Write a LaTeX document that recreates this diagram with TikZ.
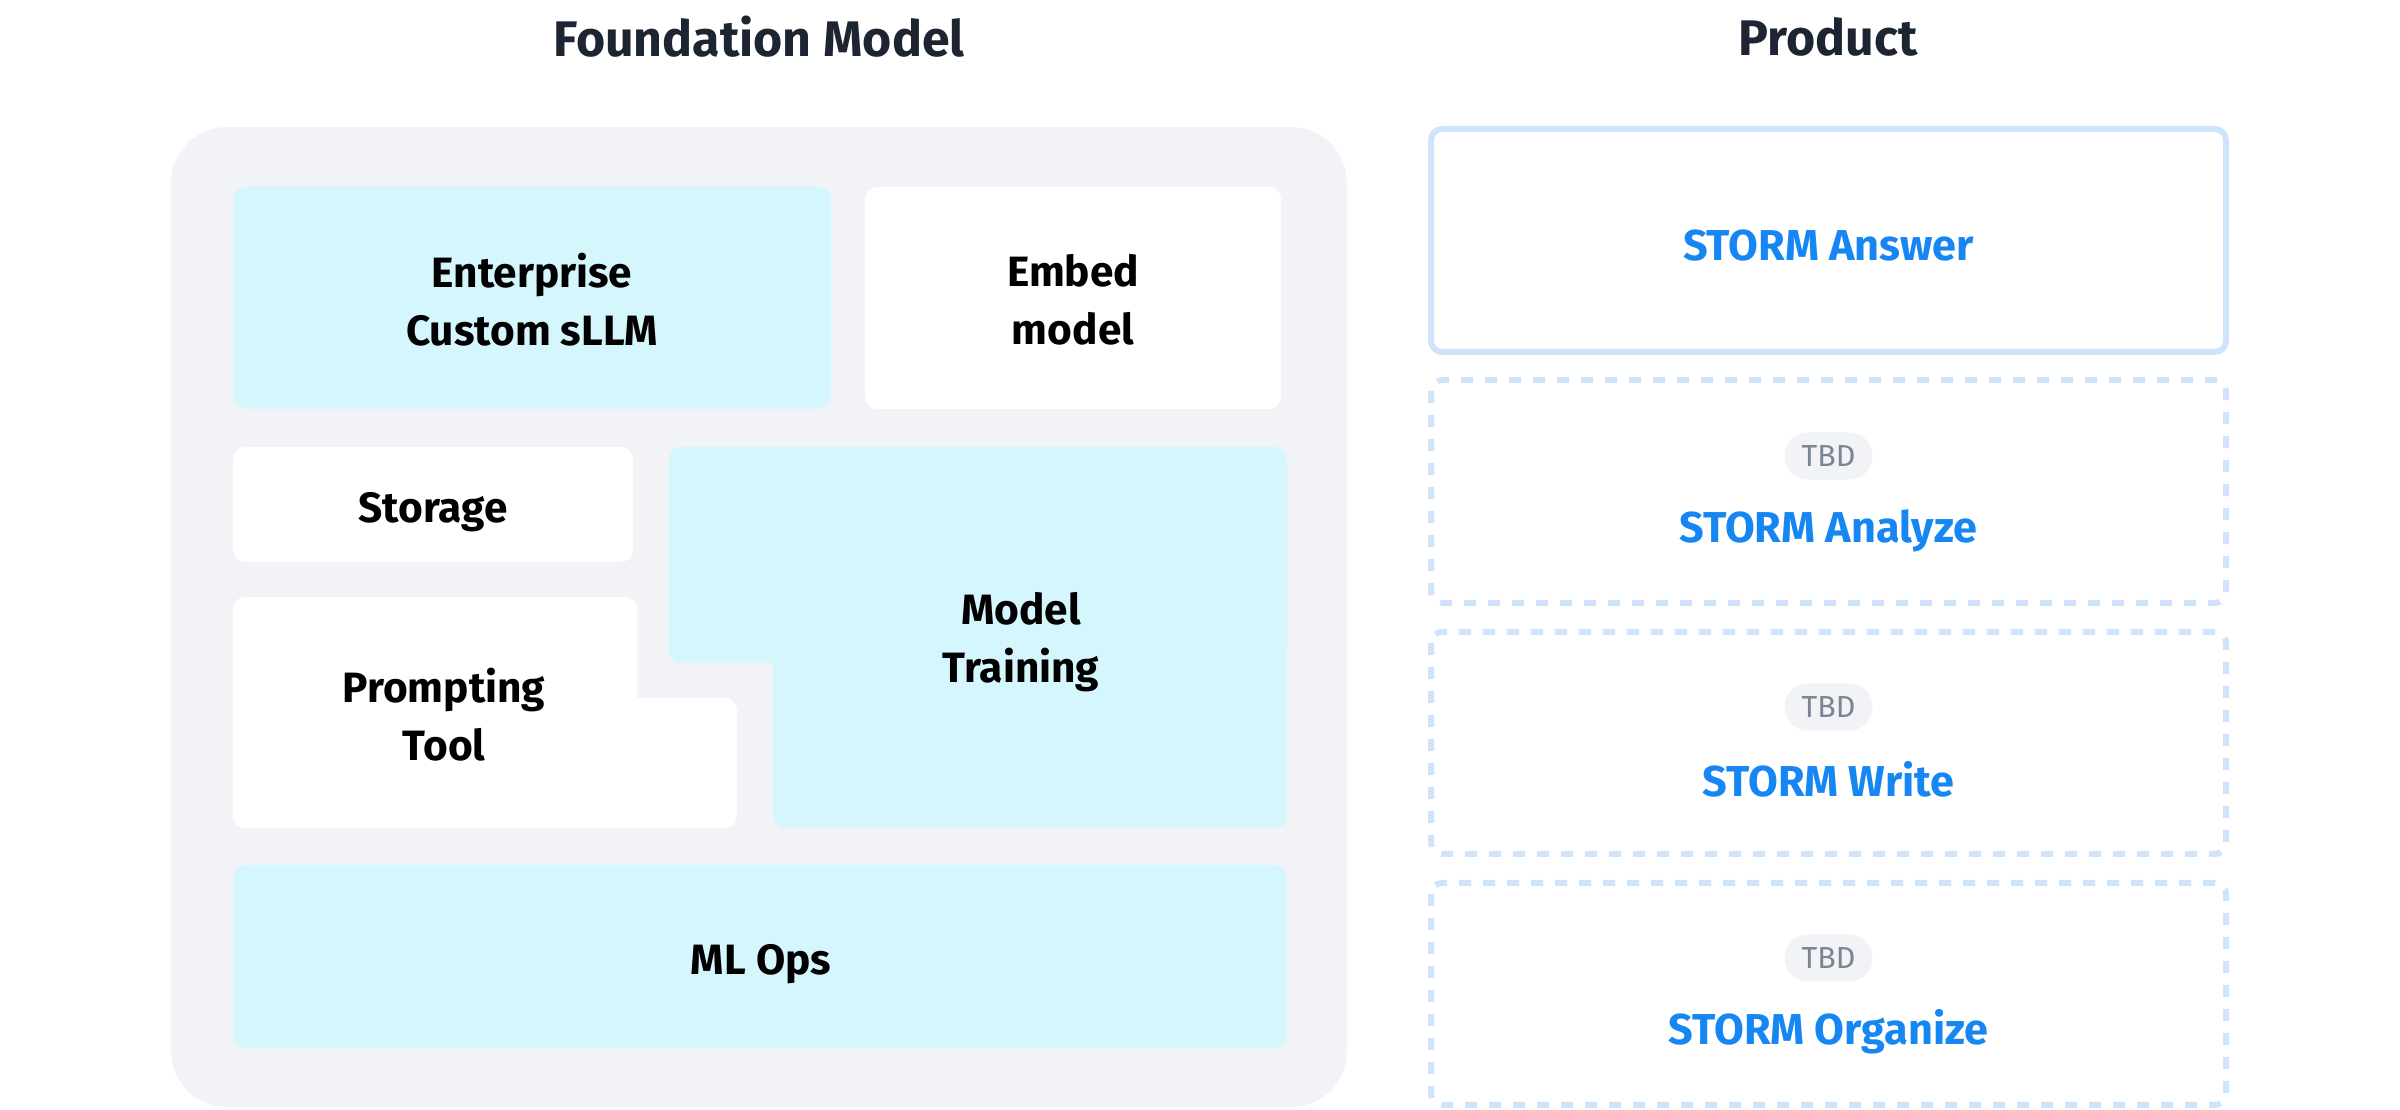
\documentclass[tikz,border=0pt]{standalone}
\usepackage{fontspec}
\setmainfont{Fira Sans}
\definecolor{panelgray}{HTML}{F1F3F6}
\definecolor{cyanfill}{HTML}{D6F6FD}
\definecolor{bordblue}{HTML}{CFE4FA}
\definecolor{stormblue}{HTML}{1686F2}
\definecolor{titlecol}{HTML}{1E2532}
\definecolor{tbdgray}{HTML}{7B8491}
\tikzset{
  title/.style={font=\fontsize{12.5}{15}\selectfont\bfseries, text=titlecol},
  boxtext/.style={font=\fontsize{10.6}{14.5}\selectfont\bfseries, text=black, align=center},
  stormtext/.style={font=\fontsize{10.8}{14.5}\selectfont\bfseries, text=stormblue},
  tbd/.style={font=\fontsize{7.6}{9}\selectfont, text=tbdgray, fill=panelgray, rounded corners=5.8pt, minimum width=22pt, minimum height=11.8pt, inner sep=0pt},
  cyanbox/.style={fill=cyanfill, rounded corners=3pt},
  whitebox/.style={fill=white, rounded corners=3pt},
  prodsolid/.style={draw=bordblue, line width=1.5pt, rounded corners=2.8pt},
  proddash/.style={draw=bordblue, line width=1.5pt, rounded corners=2.8pt, dash pattern=on 3pt off 3pt},
}
\begin{document}
\begin{tikzpicture}[x=0.25pt,y=-0.25pt]
\useasboundingbox (0,0) rectangle (2400,1110);
% titles
\node[title] (t1) at (759,37) {Foundation Model};
\node[title] (t2) at (1828,37) {Product};
% panel
\fill[panelgray, rounded corners=14pt] (171,127) rectangle (1347,1107);
% boxes
\fill[cyanbox] (233,187) rectangle (831,409);
\node[boxtext] (ent) at (532,300) {Enterprise\\Custom sLLM};
\fill[whitebox] (865,187) rectangle (1281,409);
\node[boxtext] (emb) at (1073,300) {Embed\\model};
\fill[whitebox] (233,447) rectangle (633,562);
\node[boxtext] (sto) at (433,512) {Storage};
\fill[whitebox] (233,597) rectangle (637,828);
\fill[whitebox] (233,698) rectangle (737,828);
\node[boxtext] (pro) at (444,715) {Prompting\\Tool};
\fill[cyanbox] (669,447) rectangle (1287,663);
\fill[cyanbox] (773,447) rectangle (1287,828);
\node[boxtext] (mt) at (1021,642) {Model\\Training};
\fill[cyanbox] (233,865) rectangle (1287,1048);
\node[boxtext] (ml) at (761,964) {ML Ops};
% product column
\draw[prodsolid] (1431,129) rectangle (2226,352);
\node[stormtext] (sa) at (1828.5,246) {STORM Answer};
\draw[proddash] (1431,380) rectangle (2226,603);
\node[tbd] (tb1) at (1828.5,456) {TBD};
\node[stormtext] (sz) at (1828.5,531) {STORM Analyze};
\draw[proddash] (1431,632) rectangle (2226,854);
\node[tbd] (tb2) at (1828.5,707) {TBD};
\node[stormtext] (sw) at (1828.5,779) {STORM Write};
\draw[proddash] (1431,883) rectangle (2226,1105);
\node[tbd] (tb3) at (1828.5,958) {TBD};
\node[stormtext] (so) at (1828.5,1032) {STORM Organize};
\end{tikzpicture}
\end{document}
